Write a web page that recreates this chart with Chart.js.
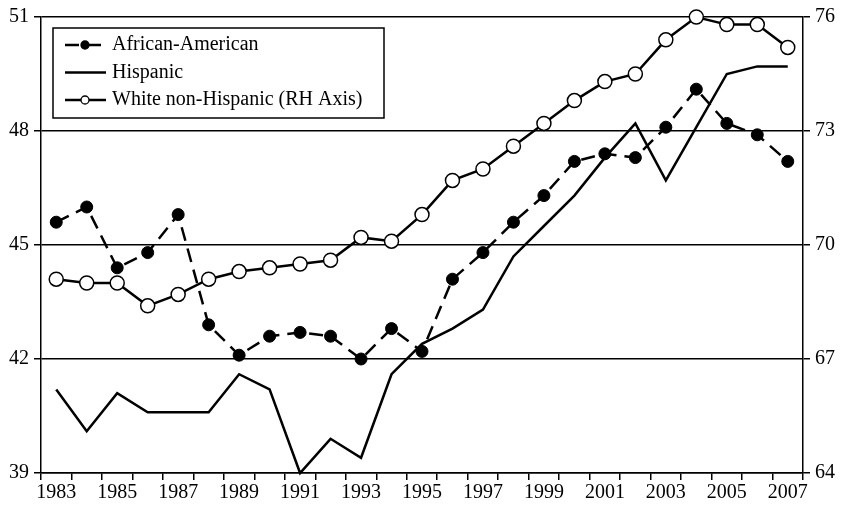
<!DOCTYPE html>
<html>
<head>
<meta charset="utf-8">
<script src="https://cdn.jsdelivr.net/npm/chart.js@4"></script>
<style>
  html, body { margin: 0; padding: 0; background: #fff; }
  #wrap { width: 847px; height: 505px; }
</style>
</head>
<body>
<div id="wrap"><canvas id="myChart" width="847" height="505"></canvas></div>
<script>
// Data
let years = ['1983', '1984', '1985', '1986', '1987', '1988', '1989', '1990', '1991', '1992', '1993', '1994', '1995',
  '1996', '1997', '1998', '1999', '2000', '2001', '2002', '2003', '2004', '2005', '2006', '2007'];
let africanAmerican = [45.6, 46.0, 44.4, 44.8, 45.8, 42.9, 42.1, 42.6, 42.7, 42.6, 42.0, 42.8, 42.2,
  44.1, 44.8, 45.6, 46.3, 47.2, 47.4, 47.3, 48.1, 49.1, 48.2, 47.9, 47.2];
let hispanic = [41.2, 40.1, 41.1, 40.6, 40.6, 40.6, 41.6, 41.2, 39.0, 39.9, 39.4, 41.6, 42.4,
  42.8, 43.3, 44.7, 45.5, 46.3, 47.3, 48.2, 46.7, 48.1, 49.5, 49.7, 49.7];
let whiteNonHispanic = [69.1, 69.0, 69.0, 68.4, 68.7, 69.1, 69.3, 69.4, 69.5, 69.6, 70.2, 70.1, 70.8,
  71.7, 72.0, 72.6, 73.2, 73.8, 74.3, 74.5, 75.4, 76.0, 75.8, 75.8, 75.2];
let seriesNames = ['African-American', 'Hispanic', 'White non-Hispanic (RH Axis)'];
let leftTicks = [39, 42, 45, 48, 51];
let rightTicks = [64, 67, 70, 73, 76];

let serif = 'Liberation Serif';
let tickFont = { family: serif, size: 20 };

// legend drawn inside the plot, with line + marker samples
let boxLegend = {
  id: 'boxLegend',
  afterDraw(chart) {
    let ctx = chart.ctx;
    let x0 = 53, y0 = 28, w = 331, h = 90;
    ctx.save();
    ctx.fillStyle = '#fff';
    ctx.fillRect(x0, y0, w, h);
    ctx.strokeStyle = '#000';
    ctx.lineWidth = 1.5;
    ctx.strokeRect(x0, y0, w, h);
    chart.data.datasets.forEach((ds, i) => {
      let y = 45 + i * 27.5;
      ctx.beginPath();
      ctx.setLineDash(ds.borderDash || []);
      ctx.lineWidth = ds.borderWidth;
      ctx.strokeStyle = '#000';
      ctx.moveTo(65, y);
      ctx.lineTo(106, y);
      ctx.stroke();
      ctx.setLineDash([]);
      if (ds.pointRadius > 0) {
        ctx.beginPath();
        ctx.arc(85, y, 4, 0, Math.PI * 2);
        ctx.fillStyle = ds.pointBackgroundColor;
        ctx.fill();
        ctx.lineWidth = 1.3;
        ctx.stroke();
      }
      ctx.fillStyle = '#000';
      ctx.font = '20px "' + serif + '"';
      ctx.textBaseline = 'middle';
      ctx.textAlign = 'left';
      ctx.fillText(ds.label, 112, y);
    });
    ctx.restore();
  }
};

let ctx = document.getElementById('myChart').getContext('2d');
let myChart = new Chart(ctx, {
  type: 'line',
  data: {
    labels: years,
    datasets: [{
      label: seriesNames[0],
      data: africanAmerican,
      yAxisID: 'y',
      borderColor: '#000',
      borderWidth: 2.5,
      borderDash: [14, 8],
      pointRadius: 6,
      pointBackgroundColor: '#000',
      pointBorderColor: '#000',
      pointBorderWidth: 1,
      tension: 0,
      clip: false
    }, {
      label: seriesNames[1],
      data: hispanic,
      yAxisID: 'y',
      borderColor: '#000',
      borderWidth: 2.5,
      pointRadius: 0,
      tension: 0,
      clip: false
    }, {
      label: seriesNames[2],
      data: whiteNonHispanic,
      yAxisID: 'y1',
      borderColor: '#000',
      borderWidth: 2.5,
      pointRadius: 7,
      pointBackgroundColor: '#fff',
      pointBorderColor: '#000',
      pointBorderWidth: 1.5,
      tension: 0,
      clip: false
    }]
  },
  options: {
    responsive: false,
    animation: false,
    layout: { padding: { top: 16, left: 0, right: 0, bottom: 0 } },
    plugins: {
      legend: { display: false },
      tooltip: { enabled: false }
    },
    scales: {
      x: {
        type: 'category',
        offset: true,
        grid: { offset: true, drawOnChartArea: false, tickLength: 7, color: '#000', lineWidth: 1.5 },
        border: { color: '#000', width: 1.5 },
        ticks: {
          autoSkip: false,
          maxRotation: 0,
          padding: 1,
          color: '#000',
          font: tickFont,
          callback: (v, i) => (i % 2 === 0 ? years[i] : '')
        },
        afterFit: (scale) => { scale.height = 32; }
      },
      y: {
        position: 'left',
        min: leftTicks[0],
        max: leftTicks[leftTicks.length - 1],
        afterBuildTicks: (scale) => { scale.ticks = leftTicks.map(v => ({ value: v })); },
        grid: { color: '#000', lineWidth: 1.5, tickLength: 7 },
        border: { color: '#000', width: 1.5 },
        ticks: { padding: 5, color: '#000', font: tickFont },
        afterFit: (scale) => { scale.width = 41; }
      },
      y1: {
        position: 'right',
        min: rightTicks[0],
        max: rightTicks[rightTicks.length - 1],
        afterBuildTicks: (scale) => { scale.ticks = rightTicks.map(v => ({ value: v })); },
        grid: { drawOnChartArea: false, color: '#000', lineWidth: 1.5, tickLength: 7 },
        border: { color: '#000', width: 1.5 },
        ticks: { padding: 5, color: '#000', font: tickFont },
        afterFit: (scale) => { scale.width = 44; }
      }
    }
  },
  plugins: [boxLegend]
});
</script>
</body>
</html>
